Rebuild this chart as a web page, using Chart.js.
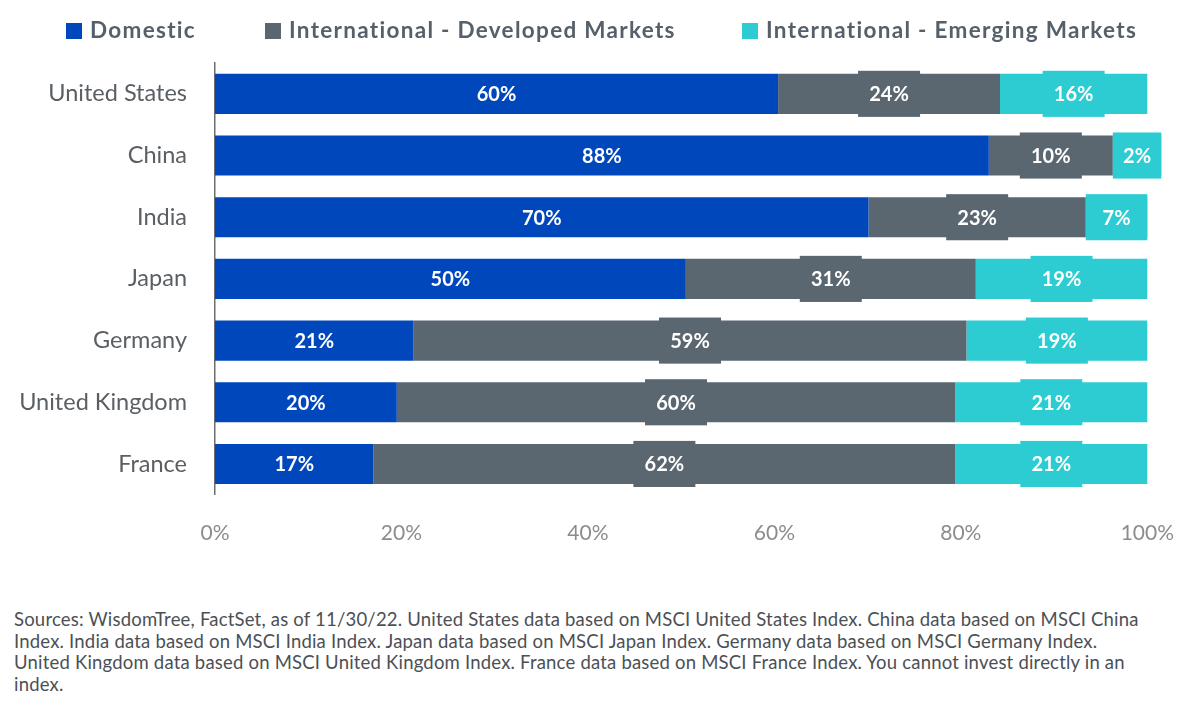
<!DOCTYPE html>
<html>
<head>
<meta charset="utf-8">
<script src="https://cdn.jsdelivr.net/npm/chart.js@4.4.0/dist/chart.umd.min.js"></script>
<style>
    body { margin: 0; background: #fff; width: 1200px; height: 715px; overflow: hidden; font-family: Lato, sans-serif; }
    #allocChart { position: absolute; left: 0; top: 0; }
    #legend { position: absolute; left: 0; top: 0; width: 1200px; height: 60px; }
    .item { position: absolute; top: 17px; font-weight: bold; font-size: 22.5px; letter-spacing: 1.3px; color: #56606a; white-space: nowrap; line-height: 26px; }
    .item i { display: inline-block; width: 16px; height: 16px; margin-right: 8px; vertical-align: -1px; }
    #note { position: absolute; left: 14px; top: 609px; width: 1180px; font-size: 18.5px; letter-spacing: 0.2px; line-height: 21.7px; color: #4b5056; white-space: nowrap; }
</style>
</head>
<body>
<canvas id="allocChart" width="1200" height="588"></canvas>
<div id="legend"></div>
<div id="note">
Sources: WisdomTree, FactSet, as of 11/30/22. United States data based on MSCI United States Index. China data based on MSCI China<br>
Index. India data based on MSCI India Index. Japan data based on MSCI Japan Index. Germany data based on MSCI Germany Index.<br>
United Kingdom data based on MSCI United Kingdom Index. France data based on MSCI France Index. You cannot invest directly in an<br>
index.
</div>
<script>
// Países e valores (comprimento das barras como desenhado)
const countries = ['United States', 'China', 'India', 'Japan', 'Germany', 'United Kingdom', 'France'];
const domestic = [60.4, 83.0, 70.1, 50.5, 21.3, 19.5, 17.0];
const developed = [23.8, 13.3, 23.3, 31.1, 59.3, 59.9, 62.4];
const emerging = [15.8, 5.2, 6.6, 18.4, 19.4, 20.6, 20.6];

// Rótulos impressos nas barras
const domesticText = ['60%', '88%', '70%', '50%', '21%', '20%', '17%'];
const developedText = ['24%', '10%', '23%', '31%', '59%', '60%', '62%'];
const emergingText = ['16%', '2%', '7%', '19%', '19%', '21%', '21%'];

const xTicks = [0, 20, 40, 60, 80, 100];

const segmentLabels = {
    id: 'segmentLabels',
    afterDatasetsDraw(chart) {
        const ctx = chart.ctx;
        ctx.save();
        chart.data.datasets.forEach((ds, i) => {
            const meta = chart.getDatasetMeta(i);
            meta.data.forEach((bar, j) => {
                const p = bar.getProps(['x', 'base', 'y', 'height'], true);
                const cx = (p.x + p.base) / 2;
                if (i > 0) {
                    const w = Math.min(62, Math.abs(p.x - p.base));
                    ctx.fillStyle = ds.backgroundColor;
                    ctx.fillRect(cx - w / 2, p.y - p.height / 2 - 3, w, p.height + 6);
                }
                ctx.fillStyle = '#fff';
                ctx.font = 'bold 20px Lato';
                ctx.textAlign = 'center';
                ctx.textBaseline = 'middle';
                ctx.fillText(ds.valueText[j], cx, p.y + 1);
            });
        });
        ctx.restore();
    }
};

const allocCtx = document.getElementById('allocChart').getContext('2d');
const allocChart = new Chart(allocCtx, {
    type: 'bar',
    data: {
        labels: countries,
        datasets: [{
            label: 'Domestic',
            data: domestic,
            valueText: domesticText,
            backgroundColor: '#0047BB'
        }, {
            label: 'International - Developed Markets',
            data: developed,
            valueText: developedText,
            backgroundColor: '#5B6770'
        }, {
            label: 'International - Emerging Markets',
            data: emerging,
            valueText: emergingText,
            backgroundColor: '#2DCCD3'
        }].map(d => Object.assign(d, { barPercentage: 1, categoryPercentage: 0.65, clip: false }))
    },
    options: {
        indexAxis: 'y',
        responsive: false,
        animation: false,
        layout: { padding: { top: 63, right: 52, bottom: 16, left: 0 } },
        plugins: {
            legend: { display: false },
            tooltip: { enabled: false }
        },
        scales: {
            x: {
                stacked: true,
                min: 0,
                max: 100,
                afterBuildTicks: axis => { axis.ticks = xTicks.map(v => ({ value: v })); },
                grid: { display: false, drawTicks: false },
                border: { display: false },
                ticks: {
                    padding: 26,
                    color: '#8a8d90',
                    font: { family: 'Lato', size: 21 },
                    callback: v => v + '%'
                }
            },
            y: {
                stacked: true,
                afterFit: axis => { axis.width = 215; },
                grid: { display: false, drawTicks: false },
                border: { color: '#6b6f73', width: 1.5 },
                ticks: {
                    padding: 28,
                    color: '#5a5f64',
                    font: { family: 'Lato', size: 23.5 }
                }
            }
        }
    },
    plugins: [segmentLabels]
});

// Legenda em HTML
const legendLeft = [66, 265, 742];
const legendEl = document.getElementById('legend');
allocChart.data.datasets.forEach((ds, i) => {
    const item = document.createElement('div');
    item.className = 'item';
    item.style.left = legendLeft[i] + 'px';
    item.innerHTML = '<i style="background:' + ds.backgroundColor + '"></i>' + ds.label;
    legendEl.appendChild(item);
});
</script>
</body>
</html>
